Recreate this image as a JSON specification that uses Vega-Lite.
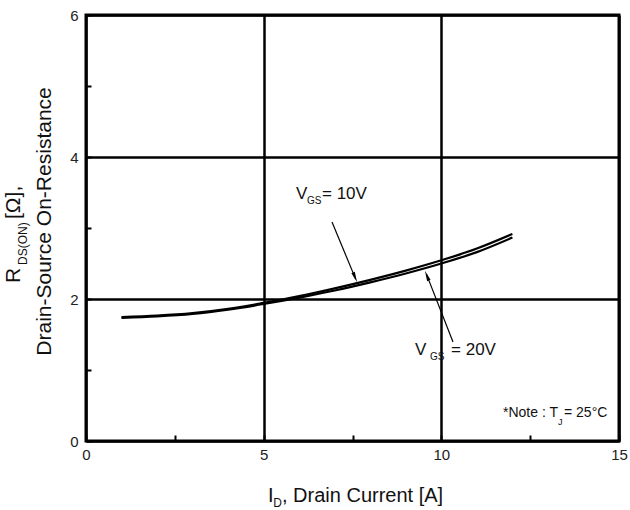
{
  "$schema": "https://vega.github.io/schema/vega-lite/v6.json",
  "width": 533,
  "height": 426,
  "autosize": {"type": "none"},
  "padding": {"left": 86, "top": 15, "right": 11, "bottom": 69},
  "background": "white",
  "config": {
    "view": {"stroke": "black", "strokeWidth": 3},
    "font": "Liberation Sans"
  },
  "encoding": {
    "x": {
      "field": "x", "type": "quantitative",
      "scale": {"domain": [0, 15], "nice": false, "zero": false},
      "axis": {
        "title": null,
        "values": [0, 2.5, 5, 7.5, 10, 12.5, 15],
        "labelExpr": "datum.value % 5 == 0 ? datum.label : ''",
        "labelFont": "Liberation Sans",
        "labelFontSize": 15,
        "labelColor": "#222",
        "labelFlush": false,
        "labelPadding": 12,
        "domain": false,
        "ticks": true,
        "tickSize": -6,
        "tickWidth": 2,
        "tickColor": "black",
        "grid": true,
        "gridColor": "black",
        "gridWidth": 2.5,
        "gridOpacity": {"condition": {"test": "datum.value % 5 != 0", "value": 0}, "value": 1}
      }
    },
    "y": {
      "field": "y", "type": "quantitative",
      "scale": {"domain": [0, 6], "nice": false, "zero": false},
      "axis": {
        "title": null,
        "values": [0, 1, 2, 3, 4, 5, 6],
        "labelExpr": "datum.value % 2 == 0 ? datum.label : ''",
        "labelFont": "Liberation Sans",
        "labelFontSize": 15,
        "labelColor": "#222",
        "labelFlush": false,
        "labelPadding": 13,
        "domain": false,
        "ticks": true,
        "tickSize": -5,
        "tickWidth": 2,
        "tickColor": "black",
        "grid": true,
        "gridColor": "black",
        "gridWidth": 2.5,
        "gridOpacity": {"condition": {"test": "datum.value % 2 != 0", "value": 0}, "value": 1}
      }
    }
  },
  "layer": [
    {
      "data": {"values": [
        {"vgs": "10V", "x": 1, "y": 1.745}, {"vgs": "10V", "x": 2, "y": 1.765}, {"vgs": "10V", "x": 3, "y": 1.80},
        {"vgs": "10V", "x": 4, "y": 1.86}, {"vgs": "10V", "x": 5, "y": 1.945}, {"vgs": "10V", "x": 6, "y": 2.04},
        {"vgs": "10V", "x": 7, "y": 2.15}, {"vgs": "10V", "x": 8, "y": 2.27}, {"vgs": "10V", "x": 9, "y": 2.40},
        {"vgs": "10V", "x": 10, "y": 2.545}, {"vgs": "10V", "x": 11, "y": 2.71}, {"vgs": "10V", "x": 12, "y": 2.915},
        {"vgs": "20V", "x": 1, "y": 1.735}, {"vgs": "20V", "x": 2, "y": 1.755}, {"vgs": "20V", "x": 3, "y": 1.79},
        {"vgs": "20V", "x": 4, "y": 1.85}, {"vgs": "20V", "x": 5, "y": 1.93}, {"vgs": "20V", "x": 6, "y": 2.02},
        {"vgs": "20V", "x": 7, "y": 2.12}, {"vgs": "20V", "x": 8, "y": 2.235}, {"vgs": "20V", "x": 9, "y": 2.36},
        {"vgs": "20V", "x": 10, "y": 2.50}, {"vgs": "20V", "x": 11, "y": 2.66}, {"vgs": "20V", "x": 12, "y": 2.865}
      ]},
      "mark": {"type": "line", "color": "black", "strokeWidth": 2.2, "interpolate": "monotone"},
      "encoding": {"detail": {"field": "vgs"}}
    },
    {
      "data": {"values": [
        {"arrow": "10V", "x": 6.923, "y": 3.085}, {"arrow": "10V", "x": 7.59, "y": 2.28},
        {"arrow": "20V", "x": 10.329, "y": 1.394}, {"arrow": "20V", "x": 9.58, "y": 2.35}
      ]},
      "mark": {"type": "line", "color": "black", "strokeWidth": 1.2},
      "encoding": {"detail": {"field": "arrow"}}
    },
    {
      "data": {"values": [{"arrow": "10V", "x": 7.573, "y": 2.304}]},
      "mark": {"type": "point", "shape": "M0,-1L-0.35,1L0.35,1Z", "filled": true, "color": "black", "opacity": 1, "size": 110, "angle": 157.4}
    },
    {
      "data": {"values": [{"arrow": "20V", "x": 9.593, "y": 2.329}]},
      "mark": {"type": "point", "shape": "M0,-1L-0.35,1L0.35,1Z", "filled": true, "color": "black", "opacity": 1, "size": 110, "angle": -21.8}
    },
    {
      "data": {"values": [
        {"x": 5.91, "y": 3.408, "t": "V"}, {"x": 6.641, "y": 3.408, "t": "= 10V"},
        {"x": 9.259, "y": 1.211, "t": "V"}, {"x": 10.273, "y": 1.211, "t": "= 20V"}
      ]},
      "mark": {"type": "text", "font": "Liberation Sans", "fontSize": 17, "align": "left", "baseline": "alphabetic", "color": "#111"},
      "encoding": {"text": {"field": "t"}}
    },
    {
      "data": {"values": [
        {"x": 6.22, "y": 3.338, "t": "GS"},
        {"x": 9.682, "y": 1.141, "t": "GS"}
      ]},
      "mark": {"type": "text", "font": "Liberation Sans", "fontSize": 10, "align": "left", "baseline": "alphabetic", "color": "#111"},
      "encoding": {"text": {"field": "t"}}
    },
    {
      "data": {"values": [
        {"x": 11.736, "y": 0.338, "t": "*Note : T"},
        {"x": 13.452, "y": 0.338, "t": "= 25°C"}
      ]},
      "mark": {"type": "text", "font": "Liberation Sans", "fontSize": 14, "align": "left", "baseline": "alphabetic", "color": "#111"},
      "encoding": {"text": {"field": "t"}}
    },
    {
      "data": {"values": [{"x": 13.284, "y": 0.225, "t": "J"}]},
      "mark": {"type": "text", "font": "Liberation Sans", "fontSize": 9, "align": "left", "baseline": "alphabetic", "color": "#111"},
      "encoding": {"text": {"field": "t"}}
    },
    {
      "data": {"values": [
        {"x": 5.122, "y": -0.859, "t": "I"},
        {"x": 5.516, "y": -0.859, "t": ", Drain Current [A]"}
      ]},
      "mark": {"type": "text", "font": "Liberation Sans", "fontSize": 20, "align": "left", "baseline": "alphabetic", "color": "#111"},
      "encoding": {"text": {"field": "t"}}
    },
    {
      "data": {"values": [{"x": 5.27, "y": -0.93, "t": "D"}]},
      "mark": {"type": "text", "font": "Liberation Sans", "fontSize": 12, "align": "left", "baseline": "alphabetic", "color": "#111"},
      "encoding": {"text": {"field": "t"}}
    },
    {
      "data": {"values": [
        {"x": -1.857, "y": 2.225, "t": "R"},
        {"x": -1.857, "y": 3.127, "t": "[Ω],"}
      ]},
      "mark": {"type": "text", "font": "Liberation Sans", "fontSize": 21, "angle": 270, "align": "left", "baseline": "alphabetic", "color": "#111"},
      "encoding": {"text": {"field": "t"}}
    },
    {
      "data": {"values": [{"x": -1.66, "y": 2.479, "t": "DS(ON)"}]},
      "mark": {"type": "text", "font": "Liberation Sans", "fontSize": 12, "angle": 270, "align": "left", "baseline": "alphabetic", "color": "#111"},
      "encoding": {"text": {"field": "t"}}
    },
    {
      "data": {"values": [{"x": -0.985, "y": 3.092, "t": "Drain-Source On-Resistance"}]},
      "mark": {"type": "text", "font": "Liberation Sans", "fontSize": 21, "angle": 270, "align": "center", "baseline": "alphabetic", "color": "#111"},
      "encoding": {"text": {"field": "t"}}
    }
  ]
}
